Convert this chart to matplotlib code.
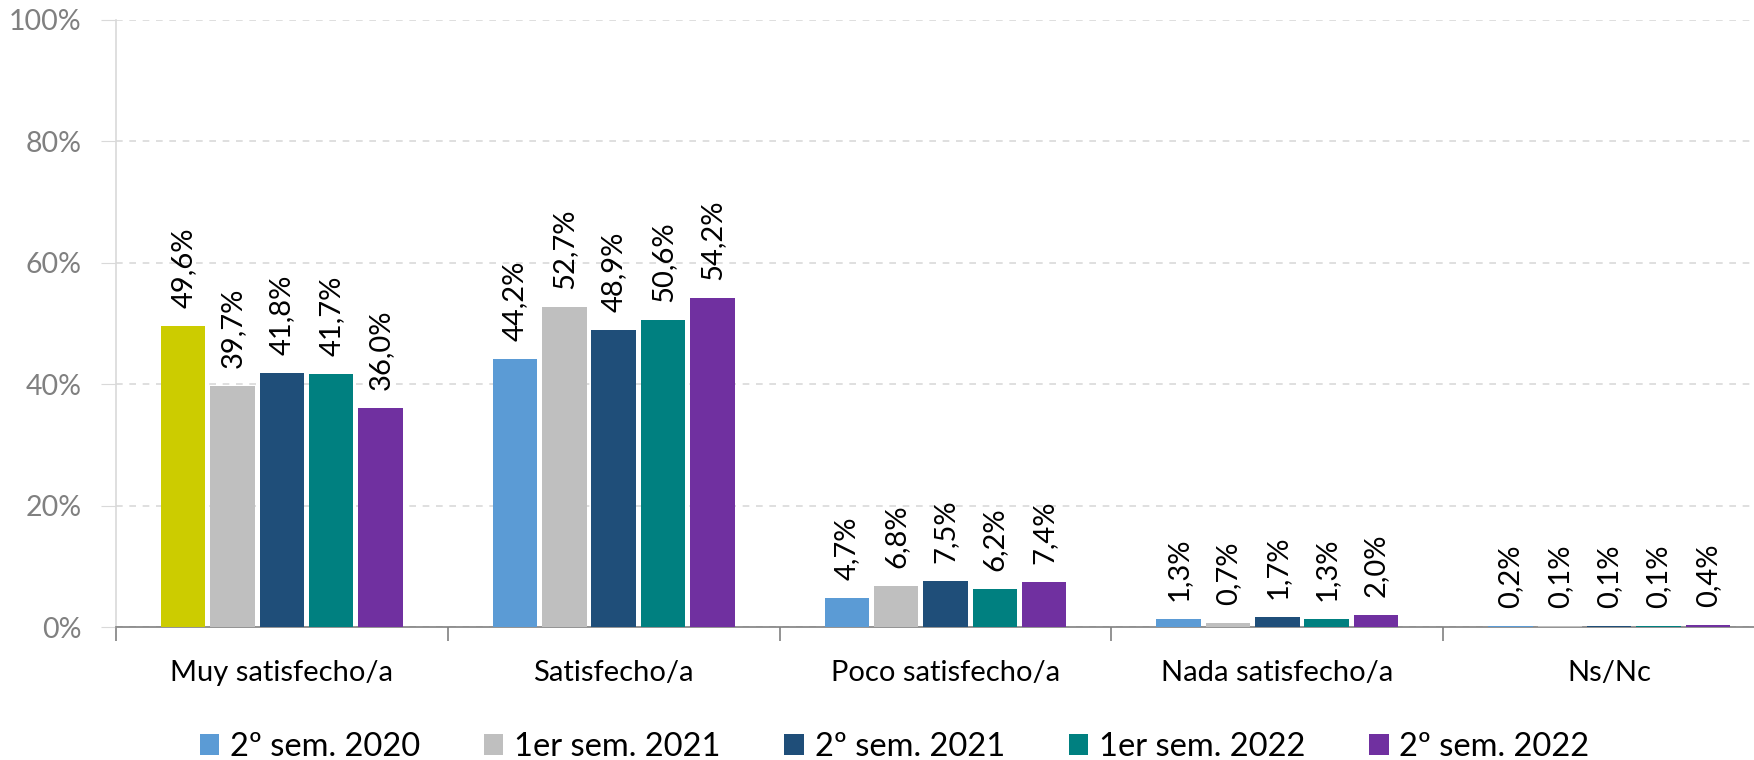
import numpy as np
import matplotlib
matplotlib.use("Agg")
import matplotlib.pyplot as plt
from matplotlib.patches import Patch

plt.rcParams['font.family'] = ['Lato', 'DejaVu Sans']

# --- Data ---
categories = ['Muy satisfecho/a', 'Satisfecho/a', 'Poco satisfecho/a',
              'Nada satisfecho/a', 'Ns/Nc']
series_names = ['2º sem. 2020', '1er sem. 2021', '2º sem. 2021',
                '1er sem. 2022', '2º sem. 2022']
sem2_2020 = [49.6, 44.2, 4.7, 1.3, 0.2]
sem1_2021 = [39.7, 52.7, 6.8, 0.7, 0.1]
sem2_2021 = [41.8, 48.9, 7.5, 1.7, 0.1]
sem1_2022 = [41.7, 50.6, 6.2, 1.3, 0.1]
sem2_2022 = [36.0, 54.2, 7.4, 2.0, 0.4]
series = [sem2_2020, sem1_2021, sem2_2021, sem1_2022, sem2_2022]

colors = ['#5B9BD5', '#BFBFBF', '#1F4E79', '#008080', '#7030A0']
highlight_color = '#CCCC00'  # first bar of first group drawn differently

# --- Figure ---
fig = plt.figure(figsize=(17.54, 7.60), dpi=100)
ax = fig.add_axes([116 / 1754, 1 - 627 / 760, (1775 - 116) / 1754, (627 - 20) / 760])

x = np.arange(len(categories))
step = 0.1487
width = 0.134
for i, (vals, col) in enumerate(zip(series, colors)):
    pos = x + (i - 2) * step
    bars = ax.bar(pos, vals, width=width, color=col, label=series_names[i], zorder=3)
    if i == 0:
        bars[0].set_facecolor(highlight_color)
    for p, v in zip(pos, vals):
        ax.annotate(f"{v:.1f}".replace('.', ',') + '%', xy=(p, v),
                    xytext=(0, 13), textcoords='offset points',
                    rotation=90, ha='center', va='bottom',
                    fontsize=21, color='black')

# --- Axes styling ---
ax.set_xlim(-0.5, 4.5)
ax.set_ylim(0, 100)
ax.set_yticks(range(0, 101, 20))
ax.set_yticklabels([f"{t}%" for t in range(0, 101, 20)], fontsize=20.5, color='#808080')
ax.tick_params(axis='y', length=11, color='#D9D9D9', pad=14)

ax.set_xticks(x)
ax.set_xticklabels(categories, fontsize=21)
ax.set_xticks(np.arange(-0.5, 5.0, 1.0), minor=True)
ax.tick_params(axis='x', which='major', length=0, pad=24)
ax.tick_params(axis='x', which='minor', length=10, color='#808080', width=1.2)

ax.grid(axis='y', color='#D9D9D9', linestyle=(0, (4, 4)), linewidth=1.2, zorder=0)
ax.spines['top'].set_visible(False)
ax.spines['right'].set_visible(False)
ax.spines['left'].set_color('#D9D9D9')
ax.spines['left'].set_linewidth(1.2)
ax.spines['bottom'].set_color('#808080')
ax.spines['bottom'].set_linewidth(1.2)
ax.set_axisbelow(True)

# legend (first series shows its regular colour)
handles = [Patch(facecolor=c) for c in colors]
fig.legend(handles, series_names, loc='center', bbox_to_anchor=(0.510, 0.017),
           ncol=5, frameon=False, fontsize=23.5, handlelength=0.6, handleheight=0.6,
           handletextpad=0.33, columnspacing=1.95)

fig.savefig('out.png', dpi=100)
